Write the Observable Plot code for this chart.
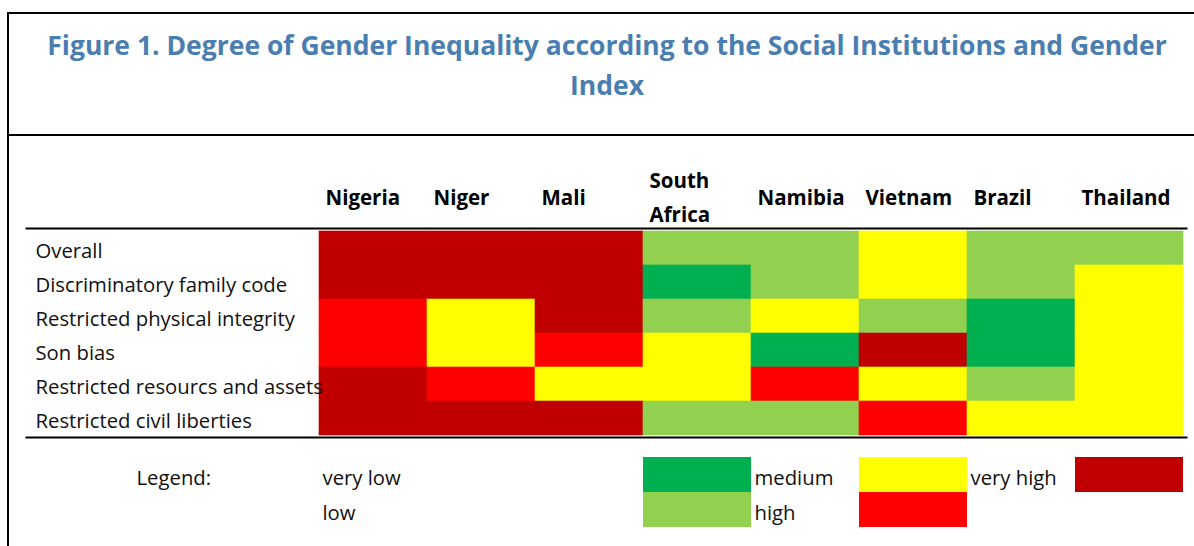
<!DOCTYPE html>
<html>
<head>
<meta charset="utf-8">
<script src="https://cdn.jsdelivr.net/npm/d3@7"></script>
<script src="https://cdn.jsdelivr.net/npm/@observablehq/plot@0.6"></script>
<style>
  html, body { margin: 0; padding: 0; background: #fff; overflow: hidden; width: 1194px; height: 546px; }
  #frame { position: absolute; left: 7px; top: 12px; width: 1260px; height: 600px;
           border-left: 2px solid #000; border-top: 2px solid #000; }
  #title { width: 1196px; height: 109px; padding-top: 11px; border-bottom: 2px solid #000;
           text-align: center; white-space: nowrap; font-family: "Open Sans", sans-serif;
           font-weight: bold; font-size: 26.5px; line-height: 40px; color: #4A7EB1; }
  #chart svg, #legend svg { display: block; }
</style>
</head>
<body>
<div id="frame">
  <div id="title">Figure 1. Degree of Gender Inequality according to the Social Institutions and Gender<br>Index</div>
  <div id="chart"></div>
  <div id="legend"></div>
</div>
<script>
// ---- data ----
const countries = ["Nigeria", "Niger", "Mali", "South Africa", "Namibia", "Vietnam", "Brazil", "Thailand"];
const headerLabels = ["Nigeria", "Niger", "Mali", "South\nAfrica", "Namibia", "Vietnam", "Brazil", "Thailand"];
const indicators = [
  "Overall",
  "Discriminatory family code",
  "Restricted physical integrity",
  "Son bias",
  "Restricted resourcs and assets",
  "Restricted civil liberties"
];
const levels = ["very low", "low", "medium", "high", "very high"];
const levelColors = ["#00B050", "#92D050", "#FFFF00", "#FF0000", "#C00000"];

// values per indicator, in the order of countries
const overall        = ["very high", "very high", "very high", "low", "low", "medium", "low", "low"];
const familyCode     = ["very high", "very high", "very high", "very low", "low", "medium", "low", "medium"];
const physIntegrity  = ["high", "medium", "very high", "low", "medium", "low", "very low", "medium"];
const sonBias        = ["high", "medium", "high", "medium", "very low", "very high", "very low", "medium"];
const resources      = ["very high", "high", "medium", "medium", "high", "medium", "low", "medium"];
const civilLiberties = ["very high", "very high", "very high", "low", "low", "high", "medium", "medium"];
const legendTitle = "Legend:";

// ---- build table ----
const rows = [overall, familyCode, physIntegrity, sonBias, resources, civilLiberties];
const cells = [];
rows.forEach((vals, r) => vals.forEach((lv, c) => cells.push({indicator: indicators[r], country: countries[c], level: lv})));

const labelCols = ["Nigeria", "Namibia", "Brazil"];
const swatchCols = ["South Africa", "Vietnam", "Thailand"];
const legendItems = levels.map((lv, i) => ({
  level: lv,
  row: i % 2 ? "r2" : "r1",
  labelCol: labelCols[Math.floor(i / 2)],
  swatchCol: swatchCols[Math.floor(i / 2)]
}));

const W = 1185;
const xScale = {type: "band", domain: countries, range: [308, 1175], padding: 0, axis: null};
const colorScale = {domain: levels, range: levelColors};
const style = {fontFamily: "Open Sans, sans-serif", fontSize: "20px", color: "#000", background: "transparent", overflow: "visible"};
const bodySize = 20.3;

const chart = Plot.plot({
  width: W, height: 302,
  marginTop: 92, marginBottom: 1, marginLeft: 17, marginRight: 8,
  x: xScale,
  y: {type: "band", domain: indicators, padding: 0, axis: null},
  color: colorScale,
  style,
  marks: [
    Plot.cell(cells, {x: "country", y: "indicator", fill: "level", inset: 0, stroke: "level", strokeWidth: 0.6}),
    Plot.frame({anchor: "top", stroke: "#000", strokeWidth: 2}),
    Plot.frame({anchor: "bottom", stroke: "#000", strokeWidth: 2}),
    Plot.text(indicators, {y: d => d, text: d => d, frameAnchor: "left", dx: 9, dy: 3, textAnchor: "start", fontSize: bodySize, fill: "#111"}),
    Plot.text(countries, {x: d => d, text: (d, i) => headerLabels[i], frameAnchor: "top", dy: -34, dx: -48,
      textAnchor: "start", lineAnchor: "middle", lineHeight: 1.66, fontWeight: "bold", fontSize: 20.5, fill: "#000"})
  ]
});
document.getElementById("chart").appendChild(chart);

const legend = Plot.plot({
  width: W, height: 108,
  marginTop: 0, marginBottom: 0, marginLeft: 17, marginRight: 8,
  x: xScale,
  y: {type: "band", domain: ["r1", "r2"], range: [19, 89], padding: 0, axis: null},
  color: colorScale,
  style,
  marks: [
    Plot.cell(legendItems, {x: "swatchCol", y: "row", fill: "level", inset: 0}),
    Plot.text(legendItems, {x: "labelCol", y: "row", text: "level", dx: -51, dy: 3, textAnchor: "start", fontSize: bodySize, fill: "#111"}),
    Plot.text([legendTitle], {y: () => "r1", text: d => d, frameAnchor: "left", dx: 110, dy: 3, textAnchor: "start", fontSize: bodySize, fill: "#111"})
  ]
});
document.getElementById("legend").appendChild(legend);
</script>
</body>
</html>
